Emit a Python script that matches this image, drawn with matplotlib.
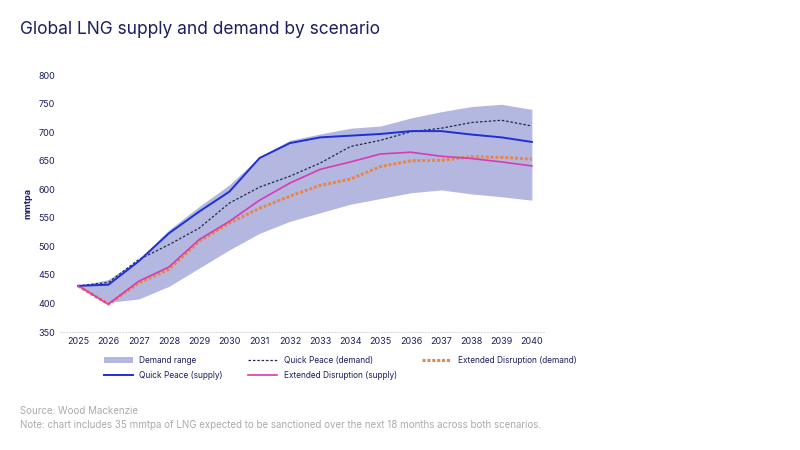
import matplotlib.pyplot as plt
import numpy as np

years = list(range(2025, 2041))
demand_low = [431, 402, 408, 430, 462, 494, 523, 544, 559, 574, 584, 594, 599, 592, 587, 581]
demand_high = [431, 442, 477, 529, 570, 608, 657, 686, 697, 707, 711, 725, 736, 745, 749, 740]
qp_demand = [431, 437, 477, 503, 532, 576, 604, 623, 646, 675, 686, 701, 707, 717, 721, 711]
ed_demand = [431, 399, 436, 460, 509, 541, 567, 588, 607, 618, 640, 650, 651, 657, 656, 653]
qp_supply = [431, 433, 474, 523, 561, 596, 655, 681, 691, 694, 697, 702, 702, 696, 691, 683]
ed_supply = [431, 399, 439, 464, 512, 544, 581, 611, 635, 648, 662, 665, 658, 654, 648, 641]

navy = "#1b1f5e"
plt.rcParams["font.family"] = ["Inter", "DejaVu Sans"]

fig = plt.figure(figsize=(8, 4.5), dpi=100)
ax = fig.add_axes([0.075, 0.262, 0.605, 0.571])
x = np.arange(len(years))

ax.fill_between(x, demand_low, demand_high, color="#b4b8e0", lw=0, label="Demand range")
ax.plot(x, qp_demand, color="#1f2a4a", ls=(0, (2, 1.5)), lw=0.9, label="Quick Peace (demand)")
ax.plot(x, ed_demand, color="#e8874a", ls=(0, (1, 0.6)), lw=2.2, label="Extended Disruption (demand)")
ax.plot(x, qp_supply, color="#1d2fd6", lw=1.4, label="Quick Peace (supply)")
ax.plot(x, ed_supply, color="#d63bb5", lw=1.2, label="Extended Disruption (supply)")

ax.set_xlim(-0.6, len(years) - 0.6)
ax.set_ylim(350, 800)
ax.set_yticks(range(350, 801, 50))
ax.set_xticks(x)
ax.set_xticklabels(years)
ax.tick_params(labelsize=6.5, colors=navy, length=0)
ax.set_ylabel("mmtpa", fontsize=6.5, color=navy, fontweight="bold")
for s in ["top", "right", "left"]:
    ax.spines[s].set_visible(False)
ax.spines["bottom"].set_color("#dddddd")
ax.spines["bottom"].set_linestyle(":")

# legend fills column-wise, so reorder to get row-wise layout
handles, labels = ax.get_legend_handles_labels()
order = [0, 3, 1, 4, 2]
leg = fig.legend([handles[i] for i in order], [labels[i] for i in order],
                 loc="upper left", bbox_to_anchor=(0.12, 0.225), ncol=3,
                 frameon=False, fontsize=6, handlelength=3.5, columnspacing=3,
                 labelspacing=0.7)
for t in leg.get_texts():
    t.set_color(navy)

fig.text(0.025, 0.925, "Global LNG supply and demand by scenario", fontsize=12.5, color=navy)
fig.text(0.025, 0.08, "Source: Wood Mackenzie", fontsize=7, color="#aaaaaa")
fig.text(0.025, 0.048, "Note: chart includes 35 mmtpa of LNG expected to be sanctioned over the next 18 months across both scenarios.",
         fontsize=7, color="#aaaaaa")

fig.savefig("out.png", dpi=100)
